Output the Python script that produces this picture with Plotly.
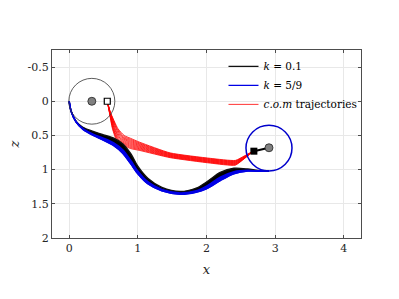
import plotly.graph_objects as go

# ---- data ----
# bundle boundaries (x, z)
blk_up_x = [0, 0.03, 0.10, 0.20, 0.35, 0.50, 0.65, 0.78, 0.90, 1.00, 1.15, 1.35, 1.62, 1.85, 2.00, 2.20, 2.40, 2.60, 2.75, 2.91]
blk_up_z = [0, 0.15, 0.29, 0.38, 0.44, 0.49, 0.54, 0.62, 0.77, 0.95, 1.13, 1.26, 1.32, 1.27, 1.18, 1.04, 0.98, 0.99, 1.01, 1.02]
mid_x = [0, 0.03, 0.10, 0.20, 0.35, 0.50, 0.65, 0.78, 0.90, 1.00, 1.15, 1.35, 1.62, 1.85, 2.00, 2.20, 2.40, 2.60, 2.75, 2.91]
mid_z = [0, 0.15, 0.30, 0.40, 0.48, 0.54, 0.61, 0.71, 0.87, 1.02, 1.18, 1.29, 1.34, 1.31, 1.24, 1.11, 1.03, 1.01, 1.02, 1.02]
blu_lo_x = [0, 0.03, 0.10, 0.20, 0.35, 0.50, 0.65, 0.78, 0.90, 1.00, 1.15, 1.35, 1.62, 1.85, 2.00, 2.20, 2.40, 2.60, 2.75, 2.91]
blu_lo_z = [0, 0.15, 0.30, 0.41, 0.50, 0.57, 0.65, 0.76, 0.92, 1.06, 1.21, 1.31, 1.36, 1.33, 1.28, 1.16, 1.06, 1.02, 1.02, 1.02]

# c.o.m trajectories
red_x = [
    [0.555, 0.600, 0.71, 0.80, 0.89, 1.03, 1.47, 2.06, 2.42, 2.55, 2.68],
    [0.555, 0.598, 0.70, 0.79, 0.89, 1.03, 1.47, 2.06, 2.42, 2.55, 2.68],
    [0.555, 0.597, 0.69, 0.78, 0.89, 1.03, 1.47, 2.06, 2.42, 2.55, 2.68],
    [0.555, 0.595, 0.68, 0.765, 0.89, 1.03, 1.47, 2.06, 2.42, 2.55, 2.68],
    [0.555, 0.594, 0.67, 0.75, 0.89, 1.03, 1.47, 2.06, 2.42, 2.55, 2.68],
    [0.555, 0.592, 0.66, 0.74, 0.89, 1.03, 1.47, 2.06, 2.42, 2.55, 2.68],
    [0.555, 0.591, 0.655, 0.73, 0.89, 1.03, 1.47, 2.06, 2.42, 2.55, 2.68],
    [0.555, 0.589, 0.645, 0.72, 0.89, 1.03, 1.47, 2.06, 2.42, 2.55, 2.68],
    [0.555, 0.588, 0.64, 0.715, 0.89, 1.03, 1.47, 2.06, 2.42, 2.55, 2.68],
    [0.555, 0.586, 0.635, 0.705, 0.89, 1.03, 1.47, 2.06, 2.42, 2.55, 2.68],
    [0.555, 0.585, 0.63, 0.70, 0.89, 1.03, 1.47, 2.06, 2.42, 2.55, 2.68],
]
red_z = [
    [0, 0.16, 0.40, 0.50, 0.54, 0.600, 0.755, 0.835, 0.865, 0.800, 0.73],
    [0, 0.16, 0.40, 0.51, 0.555, 0.612, 0.762, 0.842, 0.872, 0.805, 0.73],
    [0, 0.16, 0.40, 0.52, 0.57, 0.624, 0.769, 0.849, 0.879, 0.810, 0.73],
    [0, 0.16, 0.40, 0.525, 0.585, 0.636, 0.776, 0.856, 0.886, 0.815, 0.73],
    [0, 0.16, 0.40, 0.53, 0.60, 0.648, 0.783, 0.863, 0.893, 0.820, 0.73],
    [0, 0.16, 0.40, 0.54, 0.615, 0.660, 0.790, 0.870, 0.900, 0.825, 0.73],
    [0, 0.16, 0.40, 0.55, 0.63, 0.672, 0.797, 0.877, 0.907, 0.828, 0.73],
    [0, 0.16, 0.40, 0.56, 0.645, 0.684, 0.804, 0.884, 0.914, 0.832, 0.73],
    [0, 0.16, 0.40, 0.57, 0.66, 0.696, 0.811, 0.891, 0.921, 0.835, 0.73],
    [0, 0.16, 0.40, 0.58, 0.675, 0.708, 0.818, 0.898, 0.928, 0.838, 0.73],
    [0, 0.16, 0.40, 0.59, 0.69, 0.720, 0.825, 0.905, 0.935, 0.840, 0.73],
]

# circles (center x, center z, radius)
circ_cx = [0.33, 2.91]
circ_cz = [0.0, 0.685]
circ_r = [0.335, 0.335]
circ_col = ["#333333", "#0000cc"]
circ_w = [0.8, 1.5]

# markers
dot_x = [0.33, 2.91]
dot_z = [0.0, 0.68]
sq_open_x = [0.555]
sq_open_z = [0.0]
link_x = [2.69, 2.91]
link_z = [0.73, 0.68]

labels = ["<i>k</i> = 0.1", "<i>k</i> = 5/9", "<i>c.o.m</i> trajectories"]
xticks = [0, 1, 2, 3, 4]
zticks = [-0.5, 0, 0.5, 1, 1.5, 2]

FONT = "DejaVu Serif"
BLUE = "#0000e6"

fig = go.Figure()

# red trajectories (first one carries the legend entry)
for i, (rx, rz) in enumerate(zip(red_x, red_z)):
    fig.add_trace(go.Scatter(x=rx, y=rz, mode="lines",
                             line=dict(color="rgba(255,0,0,0.8)", width=1, shape="spline", smoothing=0.5),
                             name=labels[2], legendrank=3, showlegend=(i == 0)))

# black bundle
fig.add_trace(go.Scatter(x=blk_up_x, y=blk_up_z, mode="lines",
                         line=dict(color="#111111", width=1.3, shape="spline", smoothing=0.8),
                         name=labels[0], legendrank=1, showlegend=True))
fig.add_trace(go.Scatter(x=mid_x, y=mid_z, mode="lines", fill="tonexty", fillcolor="black",
                         line=dict(color="black", width=1.5, shape="spline", smoothing=0.8),
                         showlegend=False))
# blue bundle
fig.add_trace(go.Scatter(x=mid_x, y=mid_z, mode="lines",
                         line=dict(color=BLUE, width=1.5, shape="spline", smoothing=0.8),
                         showlegend=False))
fig.add_trace(go.Scatter(x=blu_lo_x, y=blu_lo_z, mode="lines", fill="tonexty", fillcolor=BLUE,
                         line=dict(color=BLUE, width=1.5, shape="spline", smoothing=0.8),
                         showlegend=False))
fig.add_trace(go.Scatter(x=blu_lo_x, y=blu_lo_z, mode="lines",
                         line=dict(color=BLUE, width=1.3, shape="spline", smoothing=0.8),
                         name=labels[1], legendrank=2, showlegend=True))

# circles
for cx, cz, r, c, w in zip(circ_cx, circ_cz, circ_r, circ_col, circ_w):
    fig.add_shape(type="circle", xref="x", yref="y", x0=cx - r, x1=cx + r, y0=cz - r, y1=cz + r,
                  line=dict(color=c, width=w))

# link + squares + dots
fig.add_trace(go.Scatter(x=link_x, y=link_z, mode="lines",
                         line=dict(color="black", width=2), showlegend=False))
fig.add_trace(go.Scatter(x=link_x[:1], y=link_z[:1], mode="markers",
                         marker=dict(symbol="square", size=7, color="black"), showlegend=False))
fig.add_trace(go.Scatter(x=sq_open_x, y=sq_open_z, mode="markers",
                         marker=dict(symbol="square", size=6, color="white", line=dict(color="black", width=1.2)),
                         showlegend=False))
fig.add_trace(go.Scatter(x=dot_x, y=dot_z, mode="markers",
                         marker=dict(symbol="circle", size=8, color="#808080", line=dict(color="#222222", width=0.8)),
                         showlegend=False))

fig.update_layout(
    width=399, height=299,
    margin=dict(l=52, r=38, t=50, b=61),
    plot_bgcolor="white", paper_bgcolor="white",
    font=dict(family=FONT, size=11, color="#262626"),
    showlegend=True,
    legend=dict(x=0.555, y=0.99, xanchor="left", yanchor="top", bgcolor="rgba(255,255,255,0)",
                font=dict(family=FONT, size=10.5, color="black"), tracegroupgap=0,
                itemwidth=30, traceorder="normal"),
    xaxis=dict(range=[-0.25, 4.25], tickvals=xticks, ticktext=[str(t) for t in xticks],
               showgrid=True, gridcolor="#e8e8e8", gridwidth=1, zeroline=False,
               showline=True, linecolor="#4d4d4d", linewidth=1, mirror="ticks",
               ticks="inside", ticklen=3, tickcolor="#4d4d4d", automargin=False,
               title=dict(text="<i>x</i>", font=dict(family=FONT, size=13), standoff=10)),
    yaxis=dict(range=[2, -0.75], tickvals=zticks, ticktext=["-0.5", "0", "0.5", "1", "1.5", "2"],
               showgrid=True, gridcolor="#e8e8e8", gridwidth=1, zeroline=False,
               showline=True, linecolor="#4d4d4d", linewidth=1, mirror="ticks",
               ticks="inside", ticklen=3, tickcolor="#4d4d4d", automargin=False,
               title=dict(text="<i>z</i>", font=dict(family=FONT, size=13), standoff=5)),
)

fig.write_html("out.html", config={"displayModeBar": False},
               post_script="document.body.style.margin='0';")
